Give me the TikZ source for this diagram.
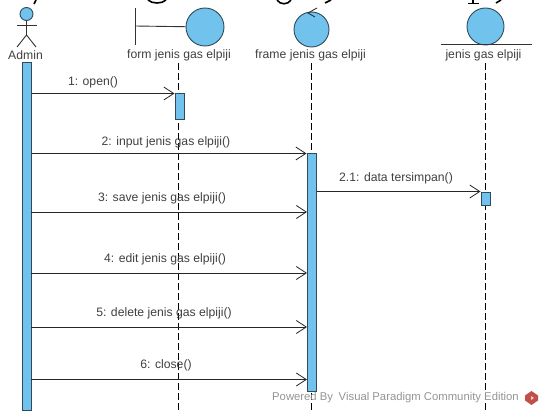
\documentclass[tikz,border=0pt]{standalone}
\usepackage{fontspec}
\setmainfont{Liberation Sans}
\usetikzlibrary{arrows.meta}
\definecolor{lifeblue}{HTML}{72C2EE}
\definecolor{lifeedge}{HTML}{2F4A5A}
\definecolor{logored}{HTML}{C2504A}
\tikzset{
	lifeline/.style={black, line width=0.8pt, dash pattern=on 7pt off 3pt},
	activation/.style={draw=lifeedge, fill=lifeblue, line width=1pt, inner sep=0pt},
	symbolshape/.style={draw=lifeedge, fill=lifeblue, line width=0.9pt, circle, inner sep=0pt},
	symbolline/.style={draw=black!80, line width=0.9pt},
	message/.style={draw=black!85, line width=0.8pt, -{Straight Barb[length=10pt,width=13pt,line width=0.8pt]}},
	msglabel/.style={font=\fontsize{12.2}{13}\selectfont, text=black!75, inner sep=0pt},
	headtail/.style={line width=1.6pt, black},
}
\begin{document}
\begin{tikzpicture}[x=1pt,y=-1pt]
	\useasboundingbox (0,0) rectangle (539,412);
	% cut-off heading above the diagram
	\draw[headtail] (34,4) -- (36,0);
	\draw[headtail] (148,0) .. controls (152,4) and (162,4) .. (166,0);
	\draw[headtail] (277,0) .. controls (280,5) and (288,5) .. (291,0);
	\draw[headtail] (325,3) -- (331,0);
	\draw[headtail] (473,0) -- (473,4);
	\draw[line width=1pt] (468,4) -- (479,4);
	\draw[headtail] (496,3) -- (501,0);
	% lifelines
	\draw[lifeline] (178.5,63) coordinate (formtop) -- (178.5,412) coordinate (formend);
	\draw[lifeline] (311,63) coordinate (frametop) -- (311,412) coordinate (frameend);
	\draw[lifeline] (485,63) coordinate (entitytop) -- (485,412) coordinate (entityend);
	% actor
	\node[symbolshape, minimum size=13pt] (adminhead) at (26.5,14) {};
	\coordinate (adminhip) at (26.5,35);
	\draw[symbolline] (adminhead) -- (adminhip);
	\draw[symbolline] (17,25.5) -- (37,25.5);
	\draw[symbolline] (17,47) -- (adminhip) -- (36,47);
	\node[msglabel] (admin) at (25.5,55) {Admin};
	% boundary
	\node[symbolshape, minimum size=38pt] (formcircle) at (205,27) {};
	\draw[symbolline] (135,8) -- (135,45);
	\coordinate (formbar) at (135,26);
	\draw[symbolline] (formbar) -- (formcircle);
	\node[msglabel] (form) at (179,55) {form jenis gas elpiji};
	% control
	\node[symbolshape, minimum size=35pt] (framecircle) at (311.5,29.5) {};
	\draw[symbolline] (317,8) -- (308,13) -- (315,17);
	\node[msglabel] (frame) at (310.5,55) {frame jenis gas elpiji};
	% entity
	\node[symbolshape, minimum size=37pt] (entitycircle) at (485.5,26.5) {};
	\draw[symbolline] (441,44) -- (532,44);
	\node[msglabel] (entity) at (483.5,55) {jenis gas elpiji};
	% activations
	\node[activation, minimum width=9pt, minimum height=347pt] (adminbar) at (26.5,236.5) {};
	\node[activation, minimum width=9pt, minimum height=26pt] (formbox) at (179.5,107) {};
	\node[activation, minimum width=9pt, minimum height=237pt] (framebar) at (311.5,272.5) {};
	\node[activation, minimum width=9pt, minimum height=13pt] (entitybox) at (485.5,198.5) {};
	% messages
	\draw[message] (adminbar.east |- formbox.north) -- (formbox.north west);
	\draw[message] (adminbar.east |- framebar.north) -- (framebar.north west);
	\foreach \y in {212,273,327,379.5}
	{
		\coordinate (msgstart) at (31,\y);
		\coordinate (msgend) at (307,\y);
		\draw[message] (msgstart) -- (msgend);
	}
	\draw[message] (framebar.east |- entitybox.north) -- (entitybox.north west);
	\node[msglabel] (openlabel) at (93,82) {1: open()};
	\node[msglabel] (inputlabel) at (166,142) {2: input jenis gas elpiji()};
	\node[msglabel] (savelabel) at (162,198) {3: save jenis gas elpiji()};
	\node[msglabel] (editlabel) at (165,259) {4: edit jenis gas elpiji()};
	\node[msglabel] (deletelabel) at (164,313) {5: delete jenis gas elpiji()};
	\node[msglabel] (closelabel) at (166,365) {6: close()};
	\node[msglabel] (datalabel) at (396,178) {2.1: data tersimpan()};
	% watermark
	\node[inner sep=0pt, text=black!42, font=\fontsize{11.3}{12}\selectfont] (powered) at (395.5,398) {Powered By\enspace Visual Paradigm Community Edition};
	\fill[logored] (531.5,391) -- (538,395.5) -- (538,400.5) -- (531.5,405) -- (525,400.5) -- (525,395.5) -- cycle;
	\fill[white!70!logored] (531,396) -- (534,398) -- (531,400) -- cycle;
\end{tikzpicture}
\end{document}
